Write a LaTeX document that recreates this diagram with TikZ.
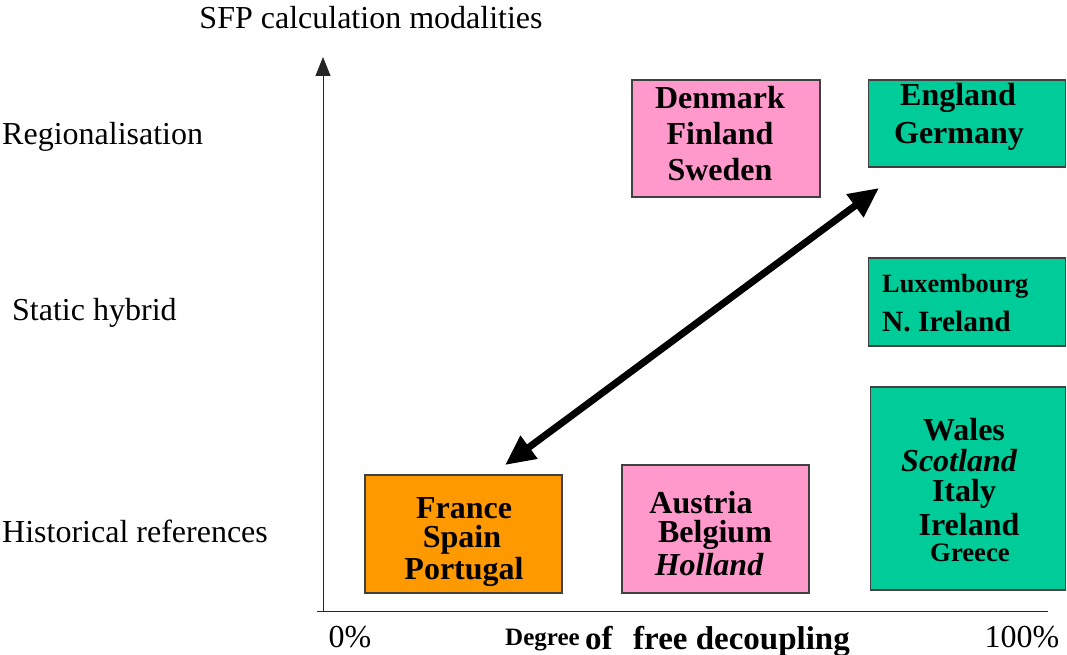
\documentclass[tikz,border=0pt]{standalone}
\usepackage{fontspec}
\setmainfont{Liberation Serif}
\usetikzlibrary{arrows.meta}
\definecolor{pinkbox}{HTML}{FF99CC}
\definecolor{greenbox}{HTML}{00CC99}
\definecolor{orangebox}{HTML}{FF9900}
\begin{document}
\begin{tikzpicture}[x=1pt,y=-1pt,
  box/.style={draw=black!75,line width=1.3pt,inner sep=0pt},
  bt/.style={inner sep=0pt,font=\fontsize{32}{34}\selectfont\bfseries},
  axlabel/.style={font=\fontsize{32}{34}\selectfont,inner sep=0pt},
  axis/.style={line width=1pt,black!85}]
\useasboundingbox (0,0) rectangle (1067,655);
% axes
\coordinate (yb) at (323,612);
\coordinate (yt) at (323,57);
\coordinate (xl) at (317,611);
\coordinate (xr) at (1048,611);
\draw[axis,-{Triangle[length=19pt,width=15pt]}] (yb) -- (yt);
\draw[axis] (xl) -- (xr);
% axis labels
\node[axlabel] (title) at (371,18) {SFP calculation modalities};
\node[axlabel,anchor=west] (reg) at (2,137) {Regionalisation};
\node[axlabel,anchor=west] (stat) at (12,313) {Static hybrid};
\node[axlabel,anchor=west] (hist) at (2,531) {Historical references};
\node[axlabel] (p0) at (350,637) {0\%};
\node[axlabel] (p100) at (1022,637) {100\%};
\node[inner sep=0pt,anchor=base west] (deg) at (505,645) {\fontsize{25}{27}\selectfont\bfseries Degree};
\node[inner sep=0pt,anchor=base west] (ofw) at (585,649) {\fontsize{33}{35}\selectfont\bfseries of};
\node[inner sep=0pt,anchor=base west] (fdw) at (633,649) {\fontsize{33}{35}\selectfont\bfseries free decoupling};
% boxes
\node[box,fill=pinkbox,minimum width=188pt,minimum height=117pt] (dk) at (726,138.5) {};
\node[bt] (dk1) at (720,98) {Denmark};
\node[bt] (dk2) at (720,134) {Finland};
\node[bt] (dk3) at (720,170) {Sweden};
\node[box,fill=greenbox,minimum width=197pt,minimum height=87pt] (en) at (967,123.5) {};
\node[bt] (en1) at (958,98) {England};
\node[bt] (en2) at (959,136) {Germany};
\node[box,fill=greenbox,minimum width=197pt,minimum height=88pt] (lu) at (967,302) {};
\node[inner sep=0pt,anchor=west] (lut1) at (882,286) {\fontsize{26.3}{28}\selectfont\bfseries Luxembourg};
\node[inner sep=0pt,anchor=west] (lut2) at (882,322) {\fontsize{29.4}{31}\selectfont\bfseries N. Ireland};
\node[box,fill=greenbox,minimum width=195pt,minimum height=203pt] (wa) at (968,488.5) {};
\node[bt] (wa1) at (964,430) {Wales};
\node[bt] (wa2) at (959,461) {\itshape Scotland};
\node[bt] (wa3) at (964,494) {Italy};
\node[bt] (wa4) at (969,525) {Ireland};
\node[inner sep=0pt] (wa5) at (970,553) {\fontsize{26.7}{28}\selectfont\bfseries Greece};
\node[box,fill=orangebox,minimum width=197pt,minimum height=118pt] (fr) at (463.5,534) {};
\node[bt] (fr1) at (464,508) {France};
\node[bt] (fr2) at (462,540) {Spain};
\node[bt] (fr3) at (464,572) {Portugal};
\node[box,fill=pinkbox,minimum width=187pt,minimum height=128pt] (at) at (715.5,529) {};
\node[bt] (at1) at (701,503) {Austria};
\node[bt] (at2) at (715,535) {Belgium};
\node[bt] (at3) at (709,565) {\itshape Holland};
% double arrow
\coordinate (a1) at (505,465);
\coordinate (a2) at (879,188);
\draw[line width=7pt,{Triangle[length=30pt,width=27pt]}-{Triangle[length=30pt,width=27pt]}] (a1) -- (a2);
\end{tikzpicture}
\end{document}
